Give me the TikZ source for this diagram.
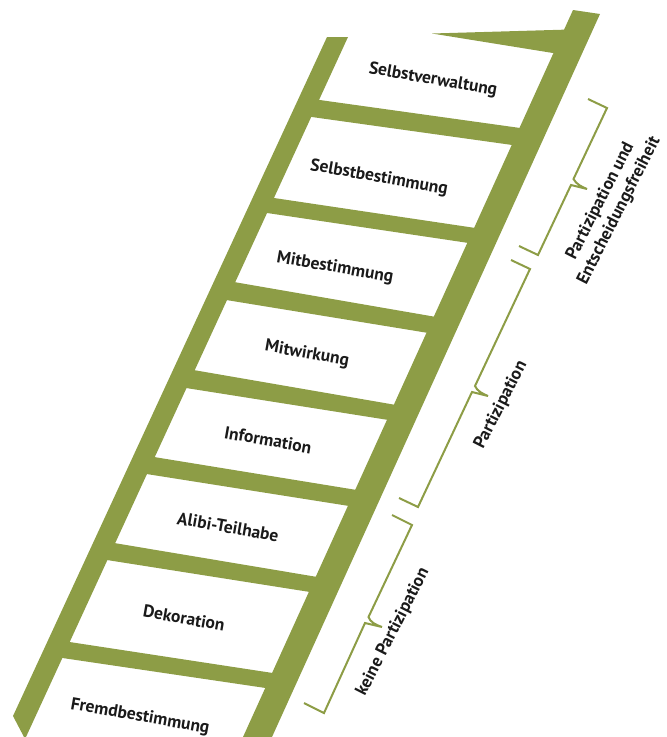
\documentclass[tikz,border=0pt]{standalone}
\usepackage{fontspec}
\setmainfont{PT Sans}
\definecolor{ladder}{HTML}{8D9D46}
\definecolor{ink}{HTML}{1A1A1A}
\tikzset{
  rail/.style={fill=ladder, draw=none},
  rung/.style={fill=ladder, draw=none},
  steplabel/.style={font=\bfseries\fontsize{17.5}{21}\selectfont, text=ink, rotate=-10, inner sep=0pt},
  bracket/.style={draw=ladder, line width=2pt, line join=miter},
  grouplabel/.style={font=\bfseries\fontsize{17.5}{21}\selectfont, text=ink, rotate=63, align=center, inner sep=0pt}
}
\begin{document}
\begin{tikzpicture}[x=1pt,y=-1pt]
\useasboundingbox (0,0) rectangle (667,737);
% rails
\fill[rail] (327,37) -- (348,37) -- (26,737) -- (24,737) -- (13,716) -- cycle;
\fill[rail] (573,10) -- (600,14) -- (272,737) -- (243,737) -- cycle;
% top wedge
\fill[rung] (432,33.5) -- (570,29.5) -- (566,54.5) -- (556,53.5) -- cycle;
% rungs
\fill[rung] (309,98.5) -- (531,129.5) -- (523,146.5) -- (301,115.5) -- cycle;
\fill[rung] (264,196.5) -- (485.5,229.5) -- (478.7,244.5) -- (257,211.5) -- cycle;
\fill[rung] (225.3,280.5) -- (444.9,318.5) -- (437.6,334.5) -- (217,298.5) -- cycle;
\fill[rung] (184.8,368.5) -- (404.8,406.5) -- (398,421.5) -- (176.5,386.5) -- cycle;
\fill[rung] (144.8,455.5) -- (366,491.5) -- (358.7,507.5) -- (137,472.5) -- cycle;
\fill[rung] (105.2,541.5) -- (326.4,578.5) -- (319.5,593.5) -- (97.4,558.5) -- cycle;
\fill[rung] (59.7,640.5) -- (282.6,674.5) -- (275.8,689.5) -- (52.3,656.5) -- cycle;
% step labels
\node[steplabel] (s8) at (433,80) {Selbstverwaltung};
\node[steplabel] (s7) at (379,178) {Selbstbestimmung};
\node[steplabel] (s6) at (335,268) {Mitbestimmung};
\node[steplabel] (s5) at (307,354) {Mitwirkung};
\node[steplabel] (s4) at (268,440) {Information};
\node[steplabel] (s3) at (228,527) {Alibi-Teilhabe};
\node[steplabel] (s2) at (184,618) {Dekoration};
\node[steplabel] (s1) at (140,717) {Fremdbestimmung};
% brackets
\coordinate (b1t) at (607,108); \coordinate (b1b) at (538,255);
\draw[bracket] (588,99) -- (b1t) -- (573.5,179) .. controls (576,184) and (582,187) .. (587,189) -- (571,185) -- (b1b) -- (519,246);
\coordinate (b2t) at (530,269); \coordinate (b2b) at (418,507);
\draw[bracket] (511,260) -- (b2t) -- (475,386) .. controls (477,391) and (483,394) .. (488,396) -- (472,392) -- (b2b) -- (399,498);
\coordinate (b3t) at (412,525); \coordinate (b3b) at (324,713);
\draw[bracket] (392,515) -- (b3t) -- (368.5,617) .. controls (370,622) and (376,625) .. (382,627) -- (365,623) -- (b3b) -- (304,703);
% group labels
\node[grouplabel] (g1) at (610,206) {Partizipation und\\Entscheidungsfreiheit};
\node[grouplabel] (g2) at (501,405) {Partizipation};
\node[grouplabel] (g3) at (393,632) {keine Partizipation};
\end{tikzpicture}
\end{document}
